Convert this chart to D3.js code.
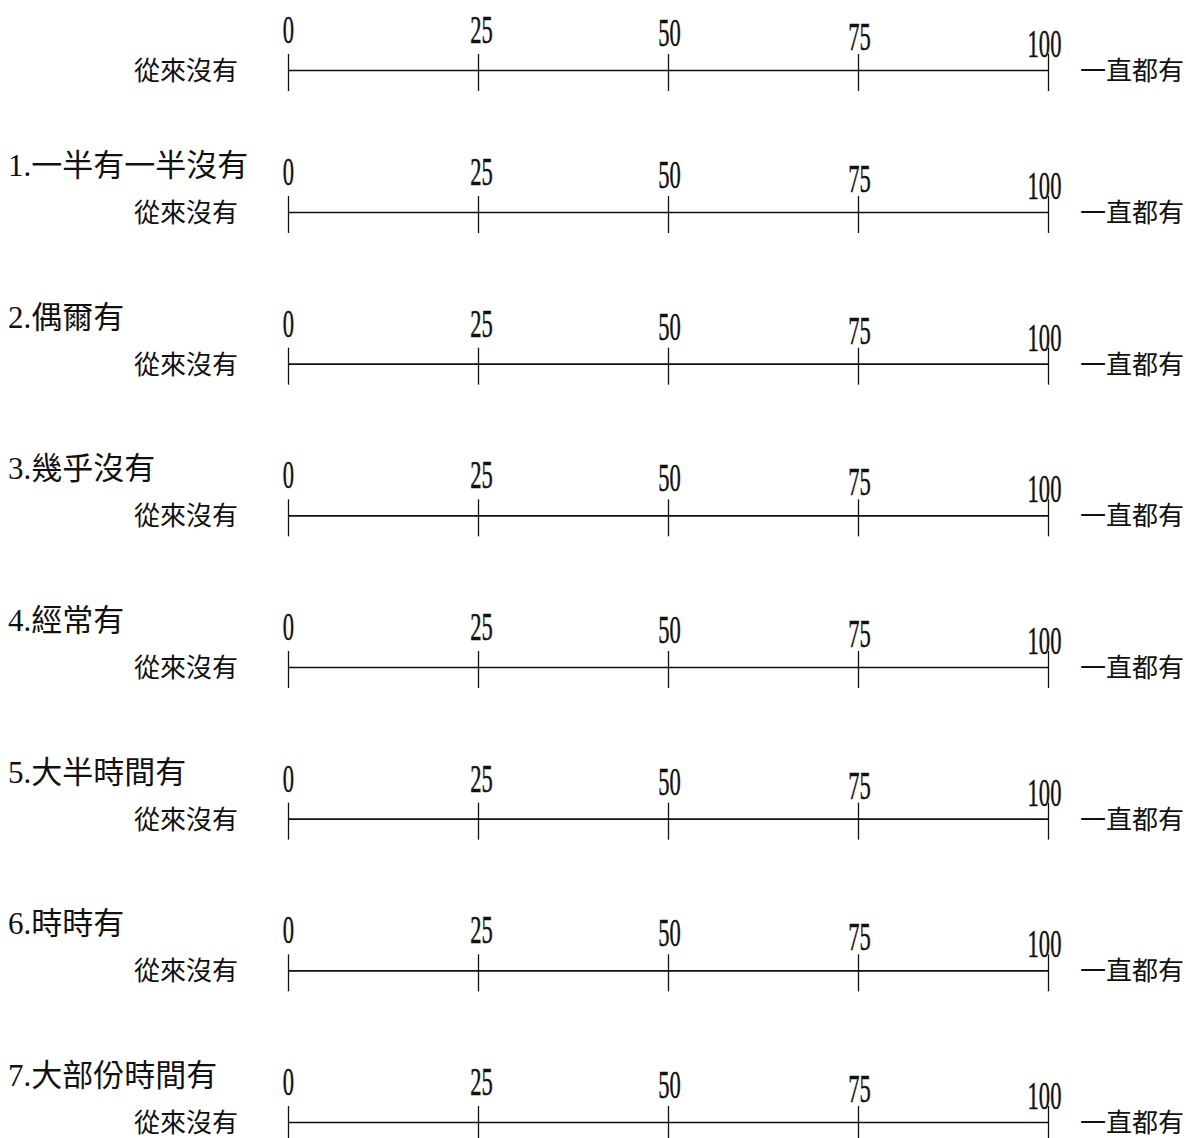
<!DOCTYPE html>
<html>
<head>
<meta charset="utf-8">
<script src="https://cdn.jsdelivr.net/npm/d3@7"></script>
<style>
    body { margin: 0; background: #fff; }
    svg { display: block; }
</style>
</head>
<body>
<script>
// ================================
// DATA
// ================================

// scale values shown on every line
var tickValues = [0, 25, 50, 75, 100];

// end labels of each scale
var leftAnchor = "從來沒有";
var rightAnchor = "一直都有";

// item titles (first scale is the example, it has no title)
var itemTitles = [
    "",
    "1.一半有一半沒有",
    "2.偶爾有",
    "3.幾乎沒有",
    "4.經常有",
    "5.大半時間有",
    "6.時時有",
    "7.大部份時間有"
];

// ================================
// LAYOUT
// ================================
var width = 1186,
    height = 1138;

// tick labels are slightly staggered in the scan
var labelDrop = [-27, -27, -24, -20, -13];
var labelShift = [0, 3, 1, 1, -4];

var svg = d3.select("body")
    .append("svg")
    .attr("width", width)
    .attr("height", height);

// value -> x
var x = d3.scaleLinear()
    .domain([0, 100])
    .range([288, 1048]);

// row -> y (first example row sits a bit closer)
var rowY = d3.scaleLinear()
    .domain([1, itemTitles.length - 1])
    .range([212, 1122]);

function yOf(i){
    return i === 0 ? 70 : rowY(i);
}

var axis = d3.axisBottom(x)
    .tickValues(tickValues)
    .tickSize(21)
    .tickSizeOuter(0)
    .tickFormat(d3.format("d"));

var rows = svg.selectAll(".row")
    .data(itemTitles)
    .enter()
    .append("g")
    .attr("class", "row")
    .attr("transform", function(d, i){ return "translate(0," + yOf(i) + ")"; });

// axis line + ticks
rows.append("g")
    .attr("class", "axis")
    .call(axis)
    .call(function(g){
        g.select(".domain")
            .attr("stroke", "#111")
            .attr("stroke-width", 1.6);
        g.selectAll(".tick line")
            .attr("y1", -16)
            .attr("stroke", "#111")
            .attr("stroke-width", 1.3);
        g.selectAll(".tick text")
            .attr("y", null)
            .attr("dy", null)
            .attr("fill", "#111")
            .attr("stroke", "#111")
            .attr("stroke-width", 0.5)
            .style("font-family", "'Liberation Serif', 'DejaVu Serif', serif")
            .style("font-size", "41px")
            .attr("transform", function(d, i){
                return "translate(" + labelShift[i] + "," + labelDrop[i] + ") scale(0.55,1)";
            });
    });

// left / right anchors
rows.append("text")
    .attr("x", 238)
    .attr("y", 10)
    .attr("text-anchor", "end")
    .style("font-family", "'Noto Sans CJK TC', sans-serif")
    .style("font-size", "26px")
    .attr("fill", "#111")
    .text(leftAnchor);

rows.append("text")
    .attr("x", 1080)
    .attr("y", 10)
    .style("font-family", "'Noto Sans CJK TC', sans-serif")
    .style("font-size", "26px")
    .attr("fill", "#111")
    .text(rightAnchor);

// item titles
rows.append("text")
    .attr("x", 8)
    .attr("y", -36)
    .style("font-family", "'Liberation Serif', 'Noto Sans CJK TC', serif")
    .style("font-size", "31px")
    .attr("fill", "#111")
    .text(function(d){ return d; });
</script>
</body>
</html>
